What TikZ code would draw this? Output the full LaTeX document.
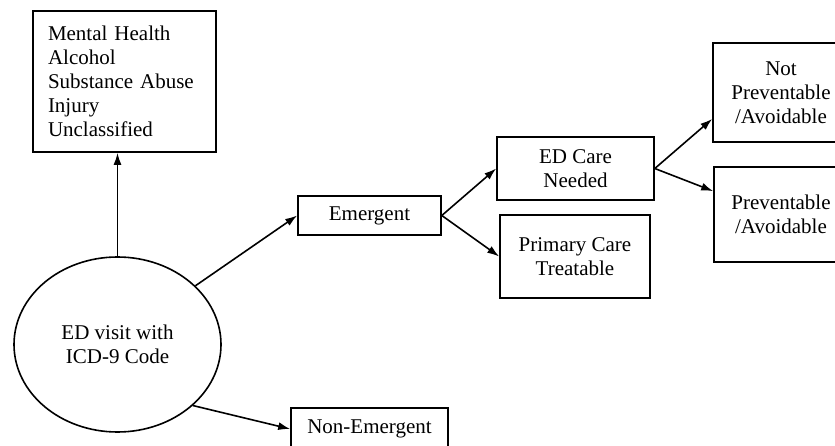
\documentclass[tikz,border=0pt]{standalone}
\usepackage{fontspec}
\setmainfont{Liberation Serif}
\usetikzlibrary{positioning, arrows.meta, shapes.geometric}

\begin{document}
\begin{tikzpicture}[x=1pt, y=-1pt, font=\fontsize{21}{24}\selectfont,
    box/.style={draw, line width=1.6pt, inner sep=0pt, align=center},
    visit/.style={draw, ellipse, line width=1.6pt, inner sep=0pt, minimum width=207pt, minimum height=175pt, align=center},
    msg/.style={-{Latex[length=12pt, width=8pt]}, line width=1.6pt}]
    \useasboundingbox (0,0) rectangle (835,446);

    \node[visit] (ED) at (117.5,344.5) {ED visit with\\ICD-9 Code};
    \node[box, minimum width=183pt, minimum height=141pt, text width=153pt, inner xsep=15pt, align=left] (Mix) at (124.5,81.5)
        {Mental Health\\Alcohol\\Substance Abuse\\Injury\\Unclassified};

    \node[box, minimum width=143pt, minimum height=39pt] (Emerg) at (369.5,215.5) {Emergent};
    \node[box, minimum width=157pt, minimum height=42pt] (NonEmerg) at (369.5,429) {Non-Emergent};

    \node[box, minimum width=157pt, minimum height=63pt] (EDCare) at (575.5,168.5) {ED Care\\Needed};
    \node[box, minimum width=150pt, minimum height=83pt] (Primary) at (575,256.5) {Primary Care\\Treatable};

    \node[box, minimum width=136pt, minimum height=99pt] (NotPrev) at (781,92.5) {Not\\Preventable\\/Avoidable};
    \node[box, minimum width=134pt, minimum height=95pt] (Prev) at (781,214.5) {Preventable\\/Avoidable};

    \path
        (ED.north) edge[msg] (ED.north |- Mix.south)
        (ED.37.7) edge[msg] (Emerg.west)
        (ED.-39.5) edge[msg] (NonEmerg.west)
        (Emerg.east) edge[msg] (EDCare.west)
        (Emerg.east) edge[msg] (Primary.west)
        (EDCare.east) edge[msg] (NotPrev.201)
        (EDCare.east) edge[msg] (Prev.161)
        ;
\end{tikzpicture}
\end{document}
